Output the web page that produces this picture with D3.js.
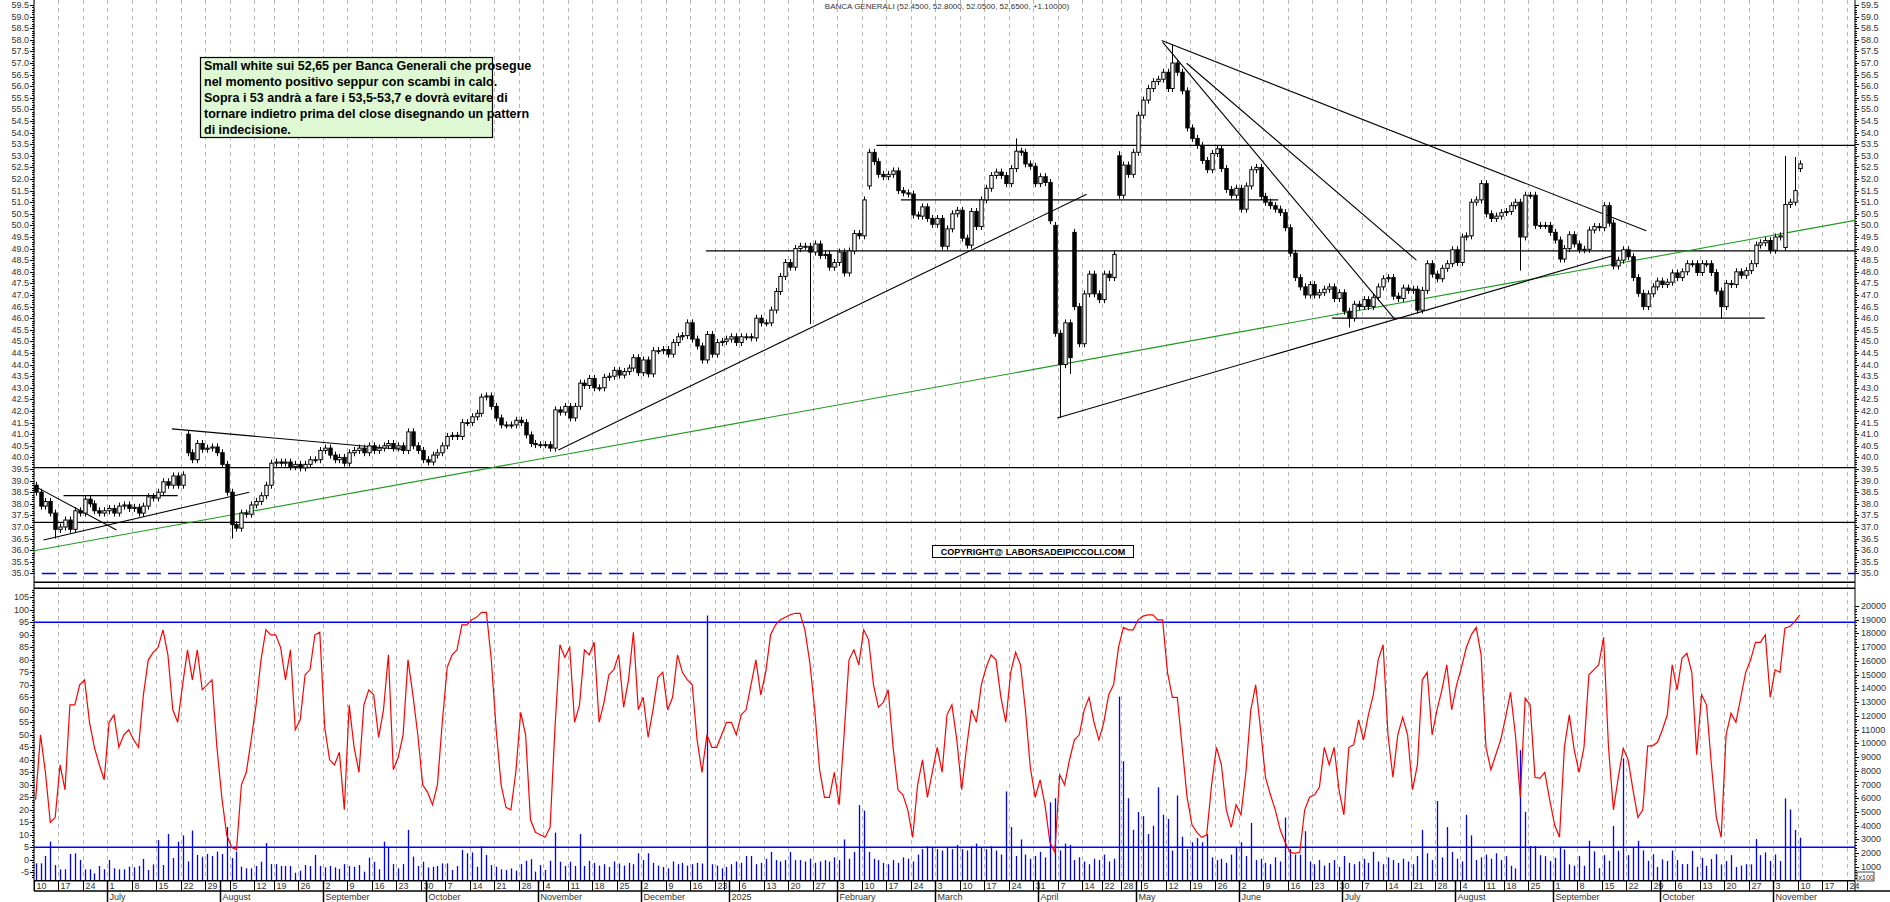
<!DOCTYPE html>
<html><head><meta charset="utf-8">
<script src="https://cdnjs.cloudflare.com/ajax/libs/d3/7.8.5/d3.min.js"></script>
<style>body{margin:0;background:#fff}svg{display:block;font-family:"Liberation Sans",Arial,sans-serif}</style>
</head><body>
<svg id="c" width="1890" height="902"></svg>
<script>
// ---------- DATA ----------
const startDate = "2024-06-10";
const holidays = ["2024-08-15","2024-12-24","2024-12-25","2024-12-26","2024-12-31","2025-01-01","2025-04-18","2025-04-21","2025-05-01","2025-08-15"];
const closes = [
38.5,37.9,38.1,37.6,36.9,37.0,37.3,36.9,37.7,37.6,
38.2,38.0,37.7,37.6,37.7,37.8,37.6,37.9,37.95,37.8,
37.85,37.6,37.9,38.3,38.25,38.5,38.95,38.8,39.2,38.8,
39.25,40.2,39.9,40.6,40.35,40.4,40.45,40.2,39.7,38.5,
37.1,36.95,37.6,37.55,37.95,38.1,38.35,38.8,39.75,39.8,
39.75,39.8,39.6,39.7,39.55,39.7,39.9,39.9,40.3,40.4,
40.1,39.9,40.0,39.75,40.2,40.3,40.4,40.2,40.5,40.3,
40.4,40.5,40.6,40.4,40.5,40.3,41.1,40.5,40.3,39.9,
39.8,40.1,40.2,40.5,40.9,40.95,40.9,41.5,41.5,41.75,
41.9,42.6,42.65,42.2,41.7,41.4,41.4,41.4,41.6,41.5,
40.97,40.6,40.55,40.55,40.55,40.4,42.05,41.95,42.2,41.7,
42.2,43.2,43.1,43.4,43.0,43.0,43.45,43.5,43.75,43.55,
43.7,43.85,44.3,43.65,44.2,43.6,44.6,44.6,44.65,44.45,
44.95,45.2,45.25,45.8,45.1,44.8,44.2,45.3,44.45,44.95,
45.0,45.1,45.2,44.95,45.2,45.2,45.15,46.0,45.8,45.8,
46.35,47.15,47.8,48.4,48.2,49.0,49.1,49.1,48.85,49.2,
48.7,48.75,48.2,48.4,48.85,47.95,48.9,49.65,49.55,51.1,
53.15,52.75,52.2,52.1,52.2,52.35,51.5,51.4,51.35,50.45,
50.4,50.8,50.3,50.05,50.3,49.1,49.85,50.5,50.65,49.45,
49.15,50.6,49.95,51.1,51.6,52.15,52.3,52.15,51.8,52.45,
53.2,53.15,52.65,52.55,51.8,52.1,51.85,50.2,45.35,44.0,
45.8,44.3,46.5,44.9,47.05,47.9,47.05,46.8,47.9,47.75,
48.75,51.3,52.6,52.2,53.15,54.75,55.4,55.9,56.2,56.3,
56.6,55.9,57.0,56.6,55.8,54.2,53.75,53.45,52.8,52.4,
53.1,53.3,52.45,51.55,51.3,51.6,50.7,51.7,52.4,52.5,
51.25,51.0,50.85,50.7,50.55,49.9,48.8,47.75,47.35,47.0,
47.45,47.0,47.1,47.25,47.35,46.85,47.1,46.3,46.0,46.6,
46.5,46.8,46.5,46.9,47.35,47.7,47.75,46.95,46.85,47.3,
47.2,47.25,46.35,47.2,48.35,47.9,47.7,48.15,48.35,48.95,
48.4,49.5,49.55,51.0,51.1,51.8,50.5,50.3,50.4,50.55,
50.6,50.85,51.0,49.5,51.3,51.3,50.0,50.0,50.0,49.7,
49.37,48.55,49.0,49.6,49.2,48.95,48.97,49.8,49.95,49.9,
50.85,50.1,48.25,48.5,48.95,48.65,47.75,47.07,46.5,47.05,
47.35,47.6,47.45,47.55,47.95,47.75,48.0,48.35,48.35,47.97,
48.35,48.35,47.97,47.17,46.5,47.5,47.45,48.0,47.85,48.05,
48.35,49.15,49.25,49.35,48.93,49.5,49.55,50.9,51.0,51.5,
52.65];
const openGaps = [[31,41.0],[106,40.4],[170,51.7],[208,50.0],[212,49.7],[221,53.0],[357,49.05],[360,52.45]];
const extremeLows = [[4,36.5],[40,36.5],[158,45.75],[209,41.7],[211,43.6],[268,45.6],[303,48.05],[344,46.0]];
const extremeHighs = [[170,53.3],[200,53.75],[221,53.2],[232,57.8],[357,53.0],[359,52.95],[360,52.8]];
const stoch = [
24,50,35,15,17,38,28,62,62,70, 72,55,45,38,32,55,58,45,50,52,
48,45,66,80,83,85,92,82,60,55, 70,84,72,84,68,70,72,45,25,10,
5,4,30,35,48,62,80,92,90,90, 85,72,84,52,56,74,76,90,91,53,
40,38,43,20,62,45,35,62,68,66, 49,60,82,36,41,50,80,66,50,30,
27,22,30,55,77,82,84,94,94,96, 97,99,99,80,52,30,21,20,35,59,
50,16,11,10,9,13,53,86,81,85, 55,62,84,82,87,
55,63,74,76,82,61,72,91,60,65, 49,60,73,75,60,65,82,75,72,70,
48,35,50,45,45,50,55,55,50,58, 60,70,80,66,75,90,94,96,97,98,
98.6,98.6,92,79,60,36,25,25,35,22, 50,80,84,78,92,88,70,61,63,68,
45,28,26,20,9,30,40,25,35,45, 35,58,62,48,28,45,60,55,70,77,
82,80,65,55,75,83,78,60,37,25, 32,22,7,3,34,30,40,48,50,60,
65,55,48,55,66,70,85,93,92,92, 96,97.5,98,98,96,96,75,65,65,45,
25,14,11,9,10,30,45,38,20,13, 22,18,35,60,70,52,33,26,20,12,
7,3,2.6,3,20,25,26,29,45,38, 45,28,18,45,46,56,48,58,66,80,
86,50,33,50,57,50,28,38,72,75, 50,60,68,78,60,70,77,85,90,93,
82,45,36,42,
48,57,67,50,25,64.6,62,33,32.6,35, 24,14,9,45,58,44,35,45,74,76,
78,89,45,20,33,44.6,40,28,17,20, 45.6,45.6,47,52,58,78,68,80.6,82.6,75,
42,66,62,38,17,9,50,58.6,55,65, 75,80,87,87,90,65,76,75,92.6,93.3,
95.3,97.9];
const volume = [
1266,1266,1800,2840,1140,830,830,1945,1995,1510, 830,830,540,1070,830,1510,900,830,830,1020,
970,1070,1580,780,1190,2960,1140,3400,1650,2840, 3300,1400,3650,1870,1750,1950,1800,2120,1950,3900,
1650,2120,1020,900,900,1070,1380,2740,1210,1210, 1070,1070,1070,580,730,1140,1070,1870,1070,970,
1070,970,850,1210,1070,1020,1140,660,1680,1380, 830,2840,2470,1210,900,1210,3700,1750,1070,1380,
970,1020,1070,1260,1260,780,1070,2230,2000,2060, 1020,2500,1870,1140,1020,830,780,900,730,1210,
1450,1570,660,1140,780,1450,3500,1380,1070,1380, 1070,3400,1070,1450,
1300,1100,1200,1000,1400,1250,1100,1300,1200,2000, 1500,2000,1300,1100,1000,900,1400,1200,1300,1100,
1200,1300,1250,19300,1200,1100,900,1000,1200,1400, 1300,1800,1800,1200,1300,1600,2100,1500,1400,1500,
2100,1500,1500,1400,1600,1300,1400,1500,1400,1700, 1500,3000,1600,2100,5500,5100,2100,1600,1500,1300,
1200,1500,1300,1700,1600,1400,1900,2300,2500,2400, 2300,2200,2400,2300,2600,2300,2200,2500,2700,2400,
2300,2500,2200,1900,6500,3900,1800,3000,1900,1600, 1800,2100,1700,5700,6000,2200,2700,2600,1500,1700,
1400,1200,1600,1500,1900,1400,1600,13400,8700,6000, 3700,5000,4700,3400,4000,6800,4800,4500,2200,6200,
3200,2300,2800,3100,2800,3400,1700,1500,1600,1300, 1900,2400,2800,1800,4200,1500,1600,1300,1200,1700,
1400,4600,2300,1900,1900,3600,1400,1200,1500,1100, 1300,1500,1000,1800,1300,1200,1400,1600,1300,2100,
1400,1200,1700,1500,1300,1600,1400,1200,1800,3700, 2000,1500,5800,1700,3900,2100,1600,1400,4800,3300,
1500,1700,1900,1600,2000,1500,
1790,1090,900,9500,5010,2520,2520,1860,1790,1430, 1670,2470,2280,1190,1090,1790,1090,2910,2130,910,
1860,1450,3980,2180,8900,1860,2420,2910,2200,1450, 1930,1010,1550,1430,2200,1500,1210,1210,2180,1010,
1670,1090,1570,1930,1190,1430,1860,1000,1100,1200, 1190,3030,1860,2060,1430,1910,1430,5990,5190,3690,
3130];
// horizontal levels [fromIndex, toIndex, price, style]
const hLevels = [[-3,372,39.56,"k"],[-3,372,37.2,"k"],[-3,372,35.0,"dash"],[136.8,372,48.9,"k"],[171.6,372,53.45,"k"],[176.6,253.6,51.1,"k"],[264.6,352.9,46.0,"k"],[5.7,29,38.35,"k"]];
// trendlines [i1,p1,i2,p2,colour]
const trendLines = [
 [0,38.74,16.5,36.87,"k"],[1.6,36.44,43.6,38.5,"k"],[27.8,41.23,75.4,40.33,"k"],
 [-1,35.95,373.5,50.3,"g"],[106.7,40.32,214.5,51.34,"k"],[208.5,41.7,322,48.7,"k"],
 [229.8,57.97,328.7,49.77,"k"],[230,57.9,277.4,45.95,"k"],[234.9,56.99,281.8,48.5,"k"]];
const priceTicks = d3.range(35,59.51,0.5);
const stochTicks = d3.range(-5,105.1,5);
const volTicks = d3.range(1000,20001,1000);
const monthNames = ["2025","February","March","April","May","June","July","August","September","October","November","December"];
const noteLines = ["Small white sui 52,65 per Banca Generali che prosegue","nel momento positivo seppur con scambi in calo.","Sopra i 53 andrà a fare i 53,5-53,7 e dovrà evitare di","tornare indietro prima del close disegnando un pattern","di indecisione."];
const titleText = "BANCA GENERALI (52.4500, 52.8000, 52.0500, 52.6500, +1.10000)";
const copyText = "COPYRIGHT@ LABORSADEIPICCOLI.COM";

// ---------- BUILD ----------
const fmt = d3.timeFormat("%Y-%m-%d");
const days = [];
{ let d = new Date(startDate+"T12:00:00");
  while (days.length < 375) { const w=d.getDay(); if (w>0&&w<6&&!holidays.includes(fmt(d))) days.push(new Date(d)); d.setDate(d.getDate()+1);} }
const N = closes.length;
const opens = closes.map((c,i)=> i===0?38.8:closes[i-1]);
openGaps.forEach(([i,o])=>opens[i]=o);
const highs = closes.map((c,i)=>Math.max(c,opens[i])+0.15);
const lows = closes.map((c,i)=>Math.min(c,opens[i])-0.15);
extremeLows.forEach(([i,v])=>lows[i]=v);
extremeHighs.forEach(([i,v])=>highs[i]=v);

const L=34, R=1855;
const x = d3.scaleLinear().domain([0,360]).range([35.6,1799.6]);
const yP = d3.scaleLinear().domain([35,59.5]).range([573.4,5]);
const yS = d3.scaleLinear().domain([0,100]).range([859.8,609.8]);
const yV = d3.scaleLinear().domain([0,20000]).range([880.7,605.9]);

const svg = d3.select("#c");
const defs = svg.append("defs");
defs.append("clipPath").attr("id","cp").append("rect").attr("x",L).attr("y",0).attr("width",R-L).attr("height",581);
defs.append("clipPath").attr("id","cl").append("rect").attr("x",L).attr("y",589).attr("width",R-L).attr("height",291);

// week gridlines & axis
const weekIdx = []; const monthIdx = [];
days.forEach((d,i)=>{ if(i===0||d.getDay()<days[i-1].getDay()||(d-days[i-1])>4*864e5) weekIdx.push(i);
  if(i>0&&d.getMonth()!==days[i-1].getMonth()) monthIdx.push(i); });
const gx = i=>Math.round(x(i)-2)+0.5;
const vis = weekIdx.filter(i=>x(i)<R);
svg.append("g").selectAll("line").data(vis).join("line")
  .attr("x1",gx).attr("x2",gx).attr("y1",0).attr("y2",880)
  .attr("stroke","#b4b4b4").attr("stroke-dasharray","4,4");

// frames
svg.append("line").attr("x1",L).attr("x2",L).attr("y1",0).attr("y2",891).attr("stroke","#000");
svg.append("line").attr("x1",R).attr("x2",R).attr("y1",0).attr("y2",891).attr("stroke","#000");
[582.3,588.3,880.7].forEach(yy=>svg.append("line").attr("x1",L).attr("x2",R).attr("y1",yy).attr("y2",yy).attr("stroke","#000").attr("stroke-width",1.5));
svg.append("line").attr("x1",L).attr("x2",1890).attr("y1",891).attr("y2",891).attr("stroke","#000").attr("stroke-width",1.5);

// price axis ticks left & right
const axG = svg.append("g").attr("font-size",9).attr("fill","#333");
d3.range(350,596).forEach(k=>{const p=k/10, yy=Math.round(yP(p))+0.5, major=k%5===0;
  axG.append("line").attr("x1",L-(major?4:2)).attr("x2",L).attr("y1",yy).attr("y2",yy).attr("stroke","#000");
  axG.append("line").attr("x1",R).attr("x2",R+(major?4:2)).attr("y1",yy).attr("y2",yy).attr("stroke","#000");});
priceTicks.forEach(p=>{ axG.append("text").attr("x",29).attr("y",yP(p)+3).attr("text-anchor","end").text(p.toFixed(1));
  axG.append("text").attr("x",1861).attr("y",yP(p)+3).text(p.toFixed(1)); });
d3.range(-7,109).forEach(v=>{const yy=Math.round(yS(v))+0.5, major=v%5===0;
  axG.append("line").attr("x1",L-(major?4:2)).attr("x2",L).attr("y1",yy).attr("y2",yy).attr("stroke","#000");});
stochTicks.forEach(v=>axG.append("text").attr("x",29).attr("y",yS(v)+3).attr("text-anchor","end").text(v));
d3.range(200,20200,200).forEach(v=>{const yy=Math.round(yV(v))+0.5, major=v%1000===0;
  axG.append("line").attr("x1",R).attr("x2",R+(major?4:2)).attr("y1",yy).attr("y2",yy).attr("stroke","#000");});
volTicks.forEach(v=>axG.append("text").attr("x",1861).attr("y",yV(v)+3).text(v));
svg.append("rect").attr("x",1857).attr("y",872).attr("width",17).attr("height",9).attr("fill","#fff").attr("stroke","#000").attr("stroke-width",0.7);
svg.append("text").attr("x",1858.5).attr("y",879.5).attr("font-size",7).attr("fill","#333").text("x100");

// date axis
const dG = svg.append("g").attr("font-size",9).attr("fill","#333");
let lastX=-99;
vis.forEach(i=>{ const xx=gx(i);
  dG.append("line").attr("x1",xx).attr("x2",xx).attr("y1",880).attr("y2",891).attr("stroke","#000");
  if (xx-lastX>14){ dG.append("text").attr("x",xx+2).attr("y",889).text(days[i].getDate()); lastX=xx; } });
monthIdx.filter(i=>x(i)<R).forEach(i=>{ const xx=gx(i);
  dG.append("line").attr("x1",xx).attr("x2",xx).attr("y1",880).attr("y2",902).attr("stroke","#000").attr("stroke-width",1.5);
  const m=days[i].getMonth(); const name = m===0?String(days[i].getFullYear()):(m===6&&days[i].getFullYear()===2024?"July":["","February","March","April","May","June","July","August","September","October","November","December"][m]);
  dG.append("text").attr("x",xx+2).attr("y",900).text(name); });

// levels & trendlines
const pG = svg.append("g").attr("clip-path","url(#cp)");
hLevels.forEach(([a,b,p,s])=>pG.append("line").attr("x1",x(a)).attr("x2",x(b)).attr("y1",yP(p)).attr("y2",yP(p))
  .attr("stroke",s==="dash"?"#0000ff":"#000").attr("stroke-width",s==="dash"?1.5:1.2).attr("stroke-dasharray",s==="dash"?"14,7":null));
trendLines.forEach(([a,p,b,q,c])=>pG.append("line").attr("x1",x(a)).attr("y1",yP(p)).attr("x2",x(b)).attr("y2",yP(q))
  .attr("stroke",c==="g"?"#1a9a1a":"#000").attr("stroke-width",1.1));

// candles
const cG = pG.append("g");
d3.range(N).forEach(i=>{ const xc=Math.round(x(i))+0.5, up=closes[i]>=opens[i];
  cG.append("line").attr("x1",xc).attr("x2",xc).attr("y1",yP(highs[i])).attr("y2",yP(lows[i])).attr("stroke","#000");
  const y1=yP(Math.max(opens[i],closes[i])), y2=yP(Math.min(opens[i],closes[i]));
  cG.append("rect").attr("x",xc-1.7).attr("y",y1).attr("width",3.4).attr("height",Math.max(1,y2-y1))
    .attr("fill",up?"#fff":"#000").attr("stroke","#000").attr("stroke-width",1); });

// lower panel
const lG = svg.append("g").attr("clip-path","url(#cl)");
lG.selectAll("line.v").data(volume).join("line").attr("x1",(d,i)=>Math.round(x(i))+0.5).attr("x2",(d,i)=>Math.round(x(i))+0.5)
  .attr("y1",yV(0)).attr("y2",d=>yV(d)).attr("stroke","#0000ff").attr("stroke-width",1.3);
[95,5].forEach(v=>lG.append("line").attr("x1",L).attr("x2",R).attr("y1",yS(v)).attr("y2",yS(v)).attr("stroke","#0000ff").attr("stroke-width",1.5));
lG.append("path").datum(stoch).attr("d",d3.line().x((d,i)=>x(i)).y(d=>yS(d))).attr("fill","none").attr("stroke","#ff0000").attr("stroke-width",1.2);

// texts
svg.append("text").attr("x",947).attr("y",9).attr("text-anchor","middle").attr("font-size",8).attr("fill","#333").text(titleText);
svg.append("rect").attr("x",200.5).attr("y",57.5).attr("width",292).attr("height",80).attr("fill","#ddf8d2").attr("stroke","#000").attr("stroke-width",1.2);
noteLines.forEach((t,k)=>svg.append("text").attr("x",204).attr("y",70+k*16).attr("font-size",12.5).attr("font-weight","bold").attr("fill","#000").text(t));
svg.append("rect").attr("x",932.5).attr("y",545.5).attr("width",201).attr("height",12).attr("fill","#fff").attr("stroke","#000");
svg.append("text").attr("x",1033).attr("y",555).attr("text-anchor","middle").attr("font-size",9).attr("font-weight","bold").attr("fill","#000").text(copyText);
</script>
</body></html>
